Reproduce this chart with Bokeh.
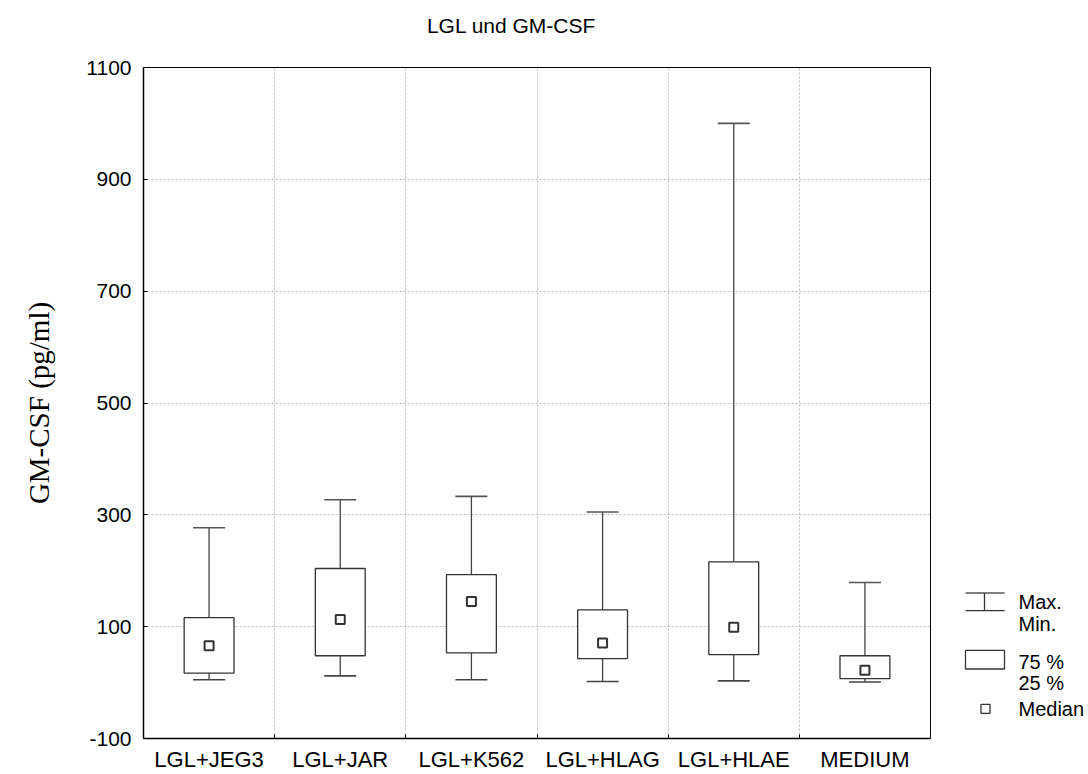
from bokeh.plotting import figure
from bokeh.models import Range1d, FixedTicker
from bokeh.layouts import row, column
from bokeh.embed import file_html
from bokeh.resources import INLINE
from bokeh.core.properties import value

# ---- data ----
categories = ["LGL+JEG3", "LGL+JAR", "LGL+K562", "LGL+HLAG", "LGL+HLAE", "MEDIUM"]
max_vals = [277, 327, 333, 305, 1000, 179]
q3_vals = [116, 204, 193, 130, 216, 48]
median_vals = [66, 113, 145, 71, 99, 22]
q1_vals = [17, 48, 53, 43, 50, 7]
min_vals = [5, 12, 5, 2, 3, 1]
y_ticks = [-100, 100, 300, 500, 700, 900, 1100]
title_text = "LGL und GM-CSF"
y_label = "GM-CSF (pg/ml)"
legend_texts = ["Max.", "Min.", "75 %", "25 %", "Median"]

FONT = "Liberation Sans"
n = len(categories)
xs = list(range(n))
boundaries = [i + 0.5 for i in range(n - 1)]

# ---- title strip ----
tfig = figure(width=1088, height=50, x_range=Range1d(0, 1088), y_range=Range1d(50, 0),
              output_backend="svg", toolbar_location=None, min_border=0,
              x_axis_location=None, y_axis_location=None)
tfig.grid.visible = False
tfig.outline_line_color = None
tfig.text(x=[511], y=[25], text=[title_text], text_font=value(FONT), text_font_size="21px",
          text_align="center", text_baseline="middle", text_color="black")

# ---- main plot ----
p = figure(width=945, height=724, x_range=Range1d(-0.5, n - 0.5), y_range=Range1d(-100, 1100),
           output_backend="svg", toolbar_location=None,
           min_border_left=143, min_border_right=15, min_border_top=17, min_border_bottom=34)
p.outline_line_color = "black"
p.outline_line_width = 1

xa = p.xaxis[0]
xa.ticker = FixedTicker(ticks=xs, minor_ticks=boundaries)
xa.major_label_overrides = {i: c for i, c in enumerate(categories)}
xa.major_tick_in = 0
xa.major_tick_out = 0
xa.minor_tick_in = 4
xa.minor_tick_out = 0
xa.major_label_standoff = 8
xa.major_label_text_font = FONT
xa.major_label_text_font_size = "22px"
xa.major_label_text_color = "black"
xa.axis_line_color = "black"
xa.axis_line_width = 1.5

ya = p.yaxis[0]
ya.ticker = FixedTicker(ticks=y_ticks, minor_ticks=[])
ya.major_label_overrides = {t: str(t) for t in y_ticks}
ya.major_tick_in = 4
ya.major_tick_out = 0
ya.minor_tick_in = 0
ya.minor_tick_out = 0
ya.major_label_standoff = 12
ya.major_label_text_font = FONT
ya.major_label_text_font_size = "21px"
ya.major_label_text_color = "black"
ya.axis_line_color = "black"
ya.axis_line_width = 1.5
ya.axis_label = y_label
ya.axis_label_text_font = "Liberation Serif"
ya.axis_label_text_font_size = "29px"
ya.axis_label_text_font_style = "normal"
ya.axis_label_text_color = "black"
ya.axis_label_standoff = 28

p.xgrid.ticker = FixedTicker(ticks=boundaries)
p.xgrid.grid_line_color = "#bdbdbd"
p.xgrid.grid_line_dash = "2 2"
p.ygrid.ticker = FixedTicker(ticks=y_ticks)
p.ygrid.grid_line_color = "#bdbdbd"
p.ygrid.grid_line_dash = "2 2"

box_half = 0.19
cap_half = 0.122

p.segment(x0=xs, y0=q3_vals, x1=xs, y1=max_vals, line_color="#444444", line_width=1.3)
p.segment(x0=xs, y0=min_vals, x1=xs, y1=q1_vals, line_color="#444444", line_width=1.3)
p.segment(x0=[x - cap_half for x in xs], y0=max_vals, x1=[x + cap_half for x in xs], y1=max_vals,
          line_color="#555555", line_width=1.6)
p.segment(x0=[x - cap_half for x in xs], y0=min_vals, x1=[x + cap_half for x in xs], y1=min_vals,
          line_color="#444444", line_width=1.6)
p.quad(left=[x - box_half for x in xs], right=[x + box_half for x in xs], bottom=q1_vals, top=q3_vals,
       fill_color="white", line_color="#333333", line_width=1.3)
p.scatter(x=xs, y=median_vals, marker="square", size=9, fill_color="white",
          line_color="#333333", line_width=2)

# ---- legend panel (page-pixel coordinates) ----
lg = figure(width=143, height=724, x_range=Range1d(945, 1088), y_range=Range1d(774, 50),
            output_backend="svg", toolbar_location=None, min_border=0,
            x_axis_location=None, y_axis_location=None)
lg.grid.visible = False
lg.outline_line_color = None

lg.segment(x0=[965], y0=[617], x1=[1004], y1=[617], line_color="#555555", line_width=1.5)
lg.segment(x0=[965], y0=[636], x1=[1004], y1=[636], line_color="#333333", line_width=1.3)
lg.segment(x0=[984], y0=[617], x1=[984], y1=[636], line_color="#333333", line_width=1.3)
lg.quad(left=[965], right=[1004], top=[679], bottom=[699], fill_color="white",
        line_color="#333333", line_width=1.3)
lg.scatter(x=[985], y=[742], marker="square", size=9, fill_color="white",
           line_color="#333333", line_width=1.3)
lg.text(x=[1018] * 5, y=[627, 650, 691, 714, 742], text=legend_texts,
        text_font=value(FONT), text_font_size="20px", text_baseline="middle", text_color="black")

layout = column(tfig, row(p, lg))
open("out.html", "w").write(file_html(layout, INLINE))
